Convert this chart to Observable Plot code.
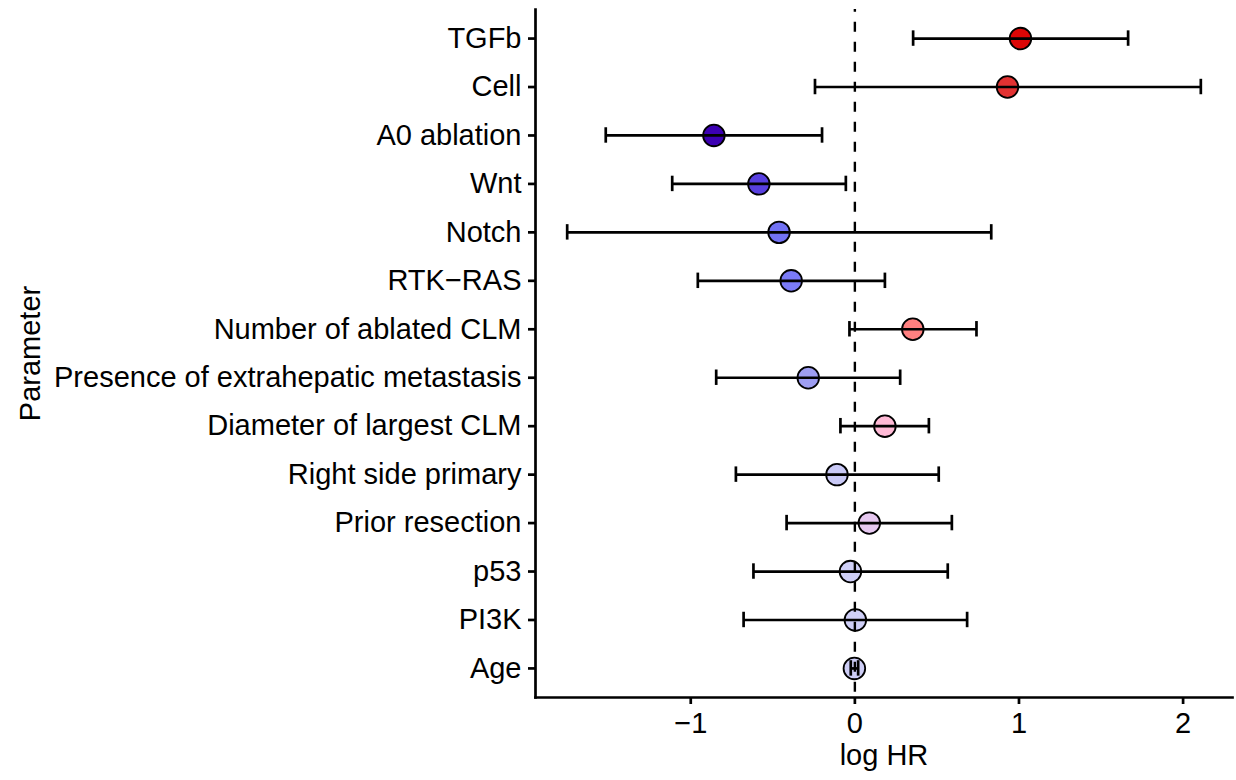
<!DOCTYPE html>
<html>
<head>
<meta charset="utf-8">
<script src="https://cdn.jsdelivr.net/npm/d3@7"></script>
<script src="https://cdn.jsdelivr.net/npm/@observablehq/plot@0.6"></script>
<style>
  html, body { margin: 0; padding: 0; background: #ffffff; }
  #chart { width: 1236px; height: 780px; }
</style>
</head>
<body>
<div id="chart"></div>
<script>
// Parameters from top to bottom
const params = [
  "TGFb", "Cell", "A0 ablation", "Wnt", "Notch", "RTK\u2212RAS",
  "Number of ablated CLM", "Presence of extrahepatic metastasis",
  "Diameter of largest CLM", "Right side primary", "Prior resection",
  "p53", "PI3K", "Age"
];
const estimates = [1.009, 0.930, -0.859, -0.585, -0.462, -0.388, 0.353, -0.284, 0.183, -0.109, 0.088, -0.027, 0.003, -0.003];
const lower     = [0.355, -0.243, -1.518, -1.113, -1.753, -0.957, -0.033, -0.845, -0.088, -0.725, -0.416, -0.618, -0.678, -0.025];
const upper     = [1.665, 2.108, -0.200, -0.055, 0.831, 0.183, 0.741, 0.276, 0.451, 0.511, 0.591, 0.566, 0.684, 0.020];
const pointColors = [
  "#dc0606", "#e23232", "#3c00b2", "#5840e0", "#7272f4", "#7b7bf7",
  "#ff8080", "#9e9ef2", "#ffbad6", "#c9c9f6", "#e6c8f0",
  "#cfcff7", "#cfcff7", "#cdcdf5"
];
const xTicks = [-1, 0, 1, 2];
const xLabel = "log HR";
const yLabel = "Parameter";

const rows = params.map((p, i) => ({param: p, est: estimates[i], lo: lower[i], hi: upper[i]}));

const lo = d3.min(lower), hi = d3.max(upper);
const pad = (hi - lo) * 0.05;
const xDomain = [lo - pad, hi + pad];

const FONT = "'Liberation Sans', Arial, Helvetica, sans-serif";
const FS = 29;
const LW = 2.7;

const chart = Plot.plot({
  width: 1236,
  height: 780,
  marginLeft: 535,
  marginRight: 4,
  marginTop: 9,
  marginBottom: 83,
  style: {fontFamily: FONT, background: "#ffffff", color: "#000000"},
  x: {domain: xDomain, ticks: xTicks},
  y: {type: "band", domain: params, paddingInner: 0, paddingOuter: 0.1, round: false},
  color: {type: "ordinal", domain: params, range: pointColors},
  marks: [
    Plot.frame({anchor: "left", stroke: "#000", strokeWidth: LW}),
    Plot.frame({anchor: "bottom", stroke: "#000", strokeWidth: LW}),
    Plot.axisX({ticks: xTicks, tickFormat: d3.format("d"), tickSize: 7, tickPadding: 8, fontSize: FS, stroke: "#000", strokeWidth: LW, fill: "#000", label: null}),
    Plot.axisY({tickSize: 7, tickPadding: 7, fontSize: FS, stroke: "#000", strokeWidth: LW, fill: "#000", label: null}),
    Plot.dot(rows, {x: "est", y: "param", r: 10.8, fill: "param", stroke: "#000", strokeWidth: 1.8}),
    Plot.ruleY(rows, {y: "param", x1: "lo", x2: "hi", stroke: "#000", strokeWidth: LW}),
    Plot.tickX(rows, {x: "lo", y: "param", stroke: "#000", strokeWidth: LW, insetTop: 16.5, insetBottom: 16.5}),
    Plot.tickX(rows, {x: "hi", y: "param", stroke: "#000", strokeWidth: LW, insetTop: 16.5, insetBottom: 16.5}),
    Plot.ruleX([0], {stroke: "#000", strokeWidth: 2.4, strokeDasharray: "10,10", strokeDashoffset: 7.3}),
    Plot.text([xLabel], {frameAnchor: "bottom", lineAnchor: "middle", dy: 58, fontSize: FS, fill: "#000"}),
    Plot.text([yLabel], {frameAnchor: "left", textAnchor: "middle", lineAnchor: "middle", dx: -505, rotate: -90, fontSize: FS, fill: "#000"})
  ]
});
document.getElementById("chart").appendChild(chart);
</script>
</body>
</html>
